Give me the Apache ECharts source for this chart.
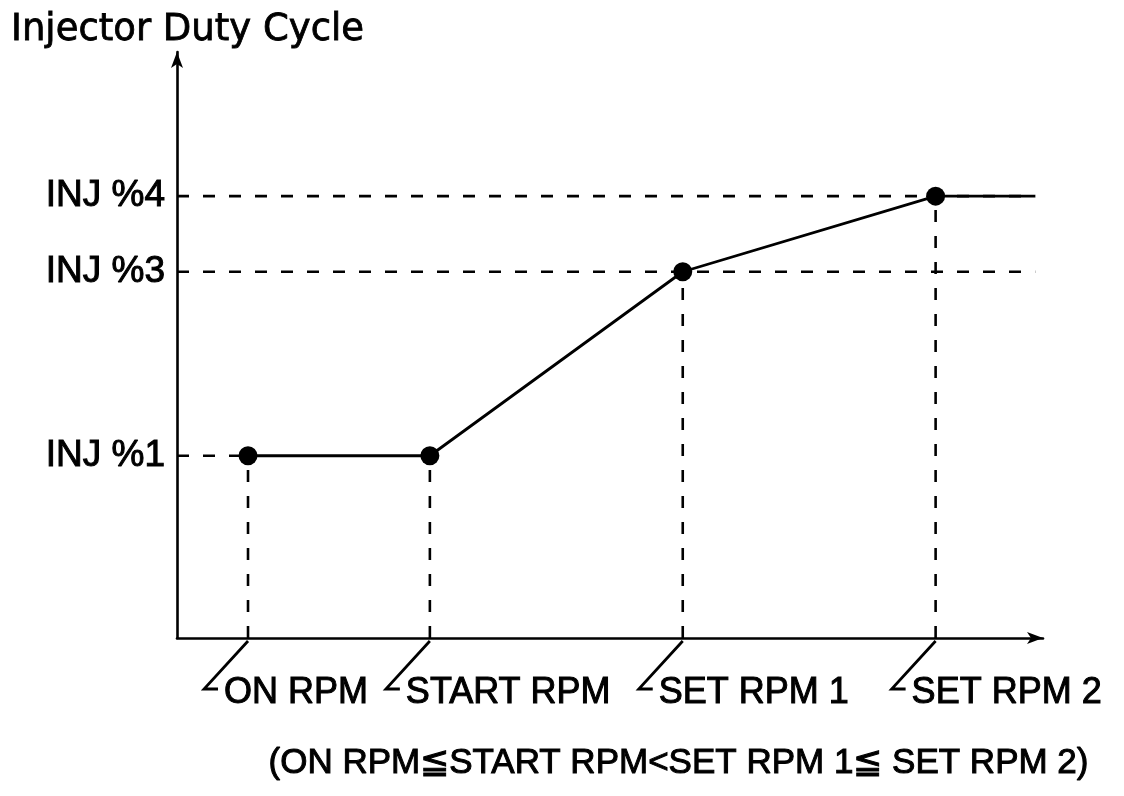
<!DOCTYPE html>
<html>
<head>
<meta charset="utf-8">
<title>Injector Duty Cycle</title>
<script src="https://cdn.jsdelivr.net/npm/echarts@6/dist/echarts.min.js"></script>
<style>
  html, body { margin: 0; padding: 0; background: #fff; }
  #chart { width: 1124px; height: 796px; }
</style>
</head>
<body>
<div id="chart"></div>
<script>
// Engine speed break points (arbitrary 0-100 scale) and their names
const rpmNames = ['ON RPM', 'START RPM', 'SET RPM 1', 'SET RPM 2'];
const rpmValues = [8.2, 29.2, 58.4, 87.6];
// Duty cycle reached at each break point (arbitrary 0-100 scale)
const dutyAtRpm = [31.1, 31.1, 62.5, 75.4];
// Duty levels labelled on the vertical axis
const dutyNames = ['INJ %1', 'INJ %3', 'INJ %4'];
const dutyValues = [31.1, 62.5, 75.4];
// Speed where the flat top of the curve stops
const plateauEnd = 99.1;
const xMax = 100;
const yMax = 100;
const footnote = '(ON RPM\u2266START RPM<SET RPM 1\u2266 SET RPM 2)';

const FONT = "'Liberation Sans', Arial, Helvetica, sans-serif";
const INK = '#000';
const DASH = [12, 14];

const chart = echarts.init(document.getElementById('chart'));

// Build the duty-cycle curve: key points get a dot, the plateau end does not
const curveData = rpmValues.map((x, i) => [x, dutyAtRpm[i]]);
curveData.push({ value: [plateauEnd, dutyAtRpm[dutyAtRpm.length - 1]], symbol: 'none' });

// Dashed guide lines
const guideSeries = [];
dutyValues.forEach((y, i) => {
  // the lowest level only runs to the first break point
  const xEnd = i === 0 ? rpmValues[0] : plateauEnd;
  guideSeries.push({
    type: 'line', silent: true, symbol: 'none', z: 1,
    data: [[0, y], [xEnd, y]],
    lineStyle: { color: INK, width: 2.6, type: DASH }
  });
});
rpmValues.forEach((x, i) => {
  guideSeries.push({
    type: 'line', silent: true, symbol: 'none', z: 1,
    data: [[x, 0], [x, dutyAtRpm[i]]],
    lineStyle: { color: INK, width: 2.6, type: DASH }
  });
});

const labelStyle = {
  fontFamily: FONT, fontSize: 37, color: INK,
  textBorderColor: INK, textBorderWidth: 1
};

chart.setOption({
  animation: false,
  backgroundColor: '#fff',
  title: {
    text: 'Injector Duty Cycle',
    left: 6, top: 7,
    textStyle: {
      fontFamily: "'DejaVu Sans', " + FONT, fontSize: 37, fontWeight: 'normal',
      color: INK, textBorderColor: INK, textBorderWidth: 0.8
    }
  },
  grid: { left: 177, right: 81, top: 52, bottom: 158, containLabel: false },
  xAxis: {
    type: 'value', min: 0, max: xMax,
    axisLine: { show: true, symbol: ['none', 'arrow'], symbolSize: [9, 16], lineStyle: { color: INK, width: 2.6 } },
    axisTick: { show: false },
    axisLabel: { show: false },
    splitLine: { show: false }
  },
  yAxis: {
    type: 'value', min: 0, max: yMax,
    axisLine: { show: true, symbol: ['none', 'arrow'], symbolSize: [9, 16], lineStyle: { color: INK, width: 2.6 } },
    axisTick: { show: false },
    axisLabel: Object.assign({
      show: true,
      customValues: dutyValues,
      margin: 12,
      formatter: (v) => {
        const k = dutyValues.indexOf(v);
        return k >= 0 ? dutyNames[k] : '';
      }
    }, labelStyle),
    splitLine: { show: false }
  },
  series: guideSeries.concat([
    {
      type: 'line', name: 'duty', z: 3,
      data: curveData,
      symbol: 'circle', symbolSize: 19,
      itemStyle: { color: INK },
      lineStyle: { color: INK, width: 2.8 }
    },
    {
      // slanted leader marks and names under each break point
      type: 'custom', z: 4, silent: true,
      data: rpmValues.map((x, i) => [x, i]),
      renderItem: (params, api) => {
        const p = api.coord([api.value(0), 0]);
        const top = [p[0], p[1] + 3];
        const bottom = [p[0] - 44, p[1] + 51];
        const foot = [bottom[0] + 14, bottom[1]];
        return {
          type: 'group',
          children: [
            {
              type: 'polyline',
              shape: { points: [top, bottom, foot] },
              style: { stroke: INK, lineWidth: 2.8, fill: null }
            },
            {
              type: 'text',
              style: {
                text: rpmNames[api.value(1)],
                x: bottom[0] + 20, y: bottom[1] + 4,
                align: 'left', verticalAlign: 'middle',
                font: '36px ' + FONT, fill: INK, stroke: INK, lineWidth: 1
              }
            }
          ]
        };
      }
    }
  ]),
  graphic: [{
    type: 'text',
    left: 268, top: 745,
    style: { text: footnote, font: '35px ' + FONT, fill: INK, stroke: INK, lineWidth: 1 }
  }]
});
</script>
</body>
</html>
